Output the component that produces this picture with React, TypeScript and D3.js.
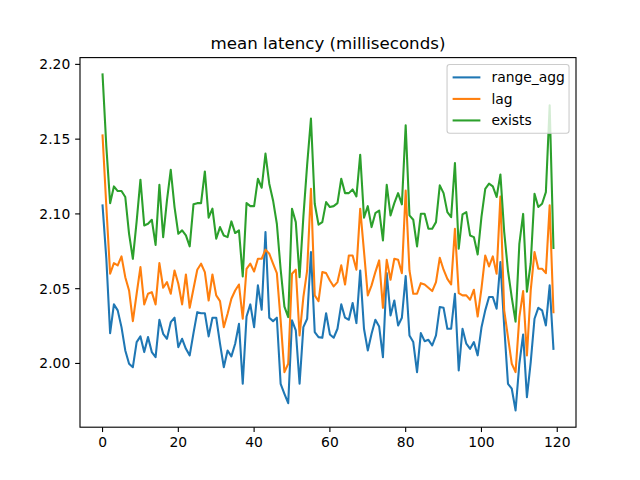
import React from 'react';
import * as d3 from 'd3';

const rangeAgg = [
  2.1057, 2.07, 2.0203, 2.0395, 2.0355, 2.0243, 2.0087, 1.9998, 1.9975, 2.0143, 2.0181, 2.0076, 2.0176, 2.0076, 2.0042, 2.0292, 2.0198, 2.0165, 2.0276, 2.0306, 2.0109,
  2.0165, 2.0098, 2.0054, 2.0203, 2.0343, 2.0336, 2.0336, 2.0181, 2.0306, 2.0306, 2.0132, 1.9975, 2.0087, 2.0047, 2.0132, 2.0265, 1.9864, 2.0314, 2.0395, 2.0243,
  2.0522, 2.0359, 2.0878, 2.0306, 2.0283, 2.0306, 1.9864, 1.9797, 1.9734, 2.0288, 2.0221, 1.9864, 2.0243, 2.0299, 2.0745, 2.021, 2.0176, 2.0172, 2.0336, 2.0194,
  2.0172, 2.0232, 2.0395, 2.0306, 2.0292, 2.0404, 2.027, 2.0622, 2.0232, 2.0087, 2.0198, 2.0292, 2.0247, 2.0042, 2.0604, 2.0321, 2.0421, 2.0254, 2.0306, 2.0585,
  2.0187, 2.0143, 1.9942, 2.0203, 2.0149, 2.0158, 2.012, 2.0187, 2.0377, 2.0372, 2.0232, 2.0232, 2.0466, 1.9953, 2.0232, 2.0132, 2.0098, 2.0143, 2.0054, 2.024,
  2.0355, 2.0444, 2.0444, 2.0366, 2.0678, 2.025, 1.9864, 1.9831, 1.9686, 1.9998, 2.0194, 1.9775, 2.0009, 2.0299, 2.0372, 2.0355, 2.0254, 2.0522, 2.0098,
];

const lag = [
  2.1525, 2.105, 2.06, 2.0671, 2.0656, 2.0716, 2.0577, 2.0488, 2.0283, 2.0466, 2.0644, 2.0395, 2.0466, 2.0477, 2.0395, 2.0671, 2.0506, 2.0544, 2.0466, 2.0622, 2.0533,
  2.0395, 2.0595, 2.0372, 2.05, 2.0627, 2.0667, 2.0611, 2.0421, 2.0595, 2.0455, 2.0417, 2.0243, 2.0332, 2.0433, 2.0488, 2.0528, 2.0299, 2.0633, 2.0667, 2.0615,
  2.07, 2.07, 2.0761, 2.0734, 2.0667, 2.0604, 2.0288, 1.9942, 1.9998, 2.06, 2.0627, 2.0187, 2.0444, 2.0622, 2.1168, 2.0455, 2.0417, 2.0611, 2.0604, 2.0555,
  2.0515, 2.0544, 2.0656, 2.0528, 2.0722, 2.0722, 2.0627, 2.1035, 2.075, 2.0455, 2.0522, 2.0611, 2.0689, 2.0372, 2.0693, 2.056, 2.07, 2.0693, 2.0604, 2.1157,
  2.0622, 2.0466, 2.0466, 2.0537, 2.0528, 2.0506, 2.0484, 2.0544, 2.0707, 2.0627, 2.0566, 2.0528, 2.0901, 2.047, 2.0455, 2.0455, 2.0426, 2.0493, 2.0314, 2.05,
  2.0722, 2.0649, 2.0716, 2.06, 2.1117, 2.0355, 2.0176, 1.9998, 1.9942, 2.031, 2.0484, 2.0054, 2.0488, 2.0745, 2.0633, 2.0633, 2.0604, 2.1057, 2.0343,
];

const exists = [
  2.1933, 2.145, 2.1072, 2.1184, 2.1153, 2.1153, 2.1113, 2.0867, 2.07, 2.095, 2.1229, 2.0923, 2.0934, 2.0961, 2.0793, 2.1195, 2.0845, 2.109, 2.1295, 2.1046, 2.0867,
  2.089, 2.0856, 2.0783, 2.1064, 2.1072, 2.1072, 2.1284, 2.0975, 2.1035, 2.0834, 2.0912, 2.0856, 2.0845, 2.095, 2.0872, 2.089, 2.0582, 2.1072, 2.1052, 2.1052,
  2.1235, 2.1175, 2.1403, 2.1202, 2.109, 2.0934, 2.063, 2.038, 2.031, 2.1035, 2.0945, 2.0577, 2.098, 2.133, 2.1637, 2.1068, 2.0928, 2.0945, 2.1079, 2.1046,
  2.1052, 2.1072, 2.1235, 2.1139, 2.1139, 2.1164, 2.1117, 2.1396, 2.0975, 2.1052, 2.0912, 2.1005, 2.1023, 2.0823, 2.1195, 2.099, 2.1072, 2.1139, 2.1064, 2.1592,
  2.099, 2.0961, 2.0783, 2.1001, 2.1001, 2.0901, 2.0901, 2.0945, 2.1191, 2.1139, 2.1012, 2.0979, 2.134, 2.0767, 2.0997, 2.1012, 2.0856, 2.0845, 2.0729, 2.098,
  2.1168, 2.1202, 2.1184, 2.1113, 2.1264, 2.088, 2.062, 2.044, 2.028, 2.08, 2.10, 2.048, 2.067, 2.1135, 2.1046, 2.1068, 2.1146, 2.1726, 2.0772,
];

const seriesNames = ['range_agg', 'lag', 'exists'];
const seriesColors = ['#1f77b4', '#ff7f0e', '#2ca02c'];
const xTicks = [0, 20, 40, 60, 80, 100, 120];
const yTicks = [2.0, 2.05, 2.1, 2.15, 2.2];
const title = 'mean latency (milliseconds)';

const W = 640;
const H = 480;
const L = 80;
const R = 576;
const T = 57.6;
const B = 427.2;
const PT = 100 / 72;
const FS = 10 * PT;
const FONT = 'DejaVu Sans, sans-serif';

export default function App() {
  const series = [rangeAgg, lag, exists];
  const n = rangeAgg.length;
  const xMin = 0;
  const xMax = n - 1;
  const xm = (xMax - xMin) * 0.05;
  const x = d3.scaleLinear().domain([xMin - xm, xMax + xm]).range([L, R]);
  const all = series.flat();
  const [yLo, yHi] = d3.extent(all) as [number, number];
  const ym = (yHi - yLo) * 0.05;
  const y = d3.scaleLinear().domain([yLo - ym, yHi + ym]).range([B, T]);
  const line = d3
    .line<number>()
    .x((_, i) => x(i))
    .y((d) => y(d));
  const tickLen = 3.5 * PT;
  const tickPad = 3.5 * PT;

  // legend layout
  const bpad = 0.4 * FS;
  const hlen = 2.0 * FS;
  const htpad = 0.8 * FS;
  const lspace = 0.5 * FS;
  const baxpad = 0.5 * FS;
  const rowH = FS * 1.05;
  const textW = 72;
  const legW = bpad * 2 + hlen + htpad + textW;
  const legH = bpad * 2 + rowH * 3 + lspace * 2;
  const legX = R - baxpad - legW;
  const legY = T + baxpad;

  return (
    <svg
      width={W}
      height={H}
      style={{ position: 'absolute', left: 0, top: 0, display: 'block', background: '#fff' }}
      fontFamily={FONT}
    >
      <rect x={0} y={0} width={W} height={H} fill="#fff" />
      <defs>
        <clipPath id="ax">
          <rect x={L} y={T} width={R - L} height={B - T} />
        </clipPath>
      </defs>
      <g clipPath="url(#ax)">
        {series.map((s, k) => (
          <path
            key={seriesNames[k]}
            d={line(s) || ''}
            fill="none"
            stroke={seriesColors[k]}
            strokeWidth={1.5 * PT}
            strokeLinejoin="round"
            strokeLinecap="square"
          />
        ))}
      </g>
      <rect x={L} y={T} width={R - L} height={B - T} fill="none" stroke="#000" strokeWidth={0.8 * PT} />
      {xTicks.map((t) => (
        <g key={'x' + t}>
          <line x1={x(t)} x2={x(t)} y1={B} y2={B + tickLen} stroke="#000" strokeWidth={0.8 * PT} />
          <text x={x(t)} y={B + tickLen + tickPad} dy="0.76em" textAnchor="middle" fontSize={FS} fill="#000">
            {d3.format('d')(t)}
          </text>
        </g>
      ))}
      {yTicks.map((t) => (
        <g key={'y' + t}>
          <line x1={L - tickLen} x2={L} y1={y(t)} y2={y(t)} stroke="#000" strokeWidth={0.8 * PT} />
          <text x={L - tickLen - tickPad} y={y(t)} dy="0.36em" textAnchor="end" fontSize={FS} fill="#000">
            {d3.format('.2f')(t)}
          </text>
        </g>
      ))}
      <text x={(L + R) / 2} y={T - 6 * PT} textAnchor="middle" fontSize={12 * PT} fill="#000">
        {title}
      </text>
      <g>
        <rect
          x={legX}
          y={legY}
          width={legW}
          height={legH}
          rx={0.2 * FS}
          fill="#fff"
          fillOpacity={0.8}
          stroke="#cccccc"
          strokeWidth={1 * PT * 0.8}
        />
        {seriesNames.map((name, k) => {
          const cy = legY + bpad + rowH * k + lspace * k + rowH / 2;
          return (
            <g key={name}>
              <line
                x1={legX + bpad}
                x2={legX + bpad + hlen}
                y1={cy}
                y2={cy}
                stroke={seriesColors[k]}
                strokeWidth={1.5 * PT}
              />
              <text x={legX + bpad + hlen + htpad} y={cy} dy="0.36em" fontSize={FS} fill="#000">
                {name}
              </text>
            </g>
          );
        })}
      </g>
    </svg>
  );
}
